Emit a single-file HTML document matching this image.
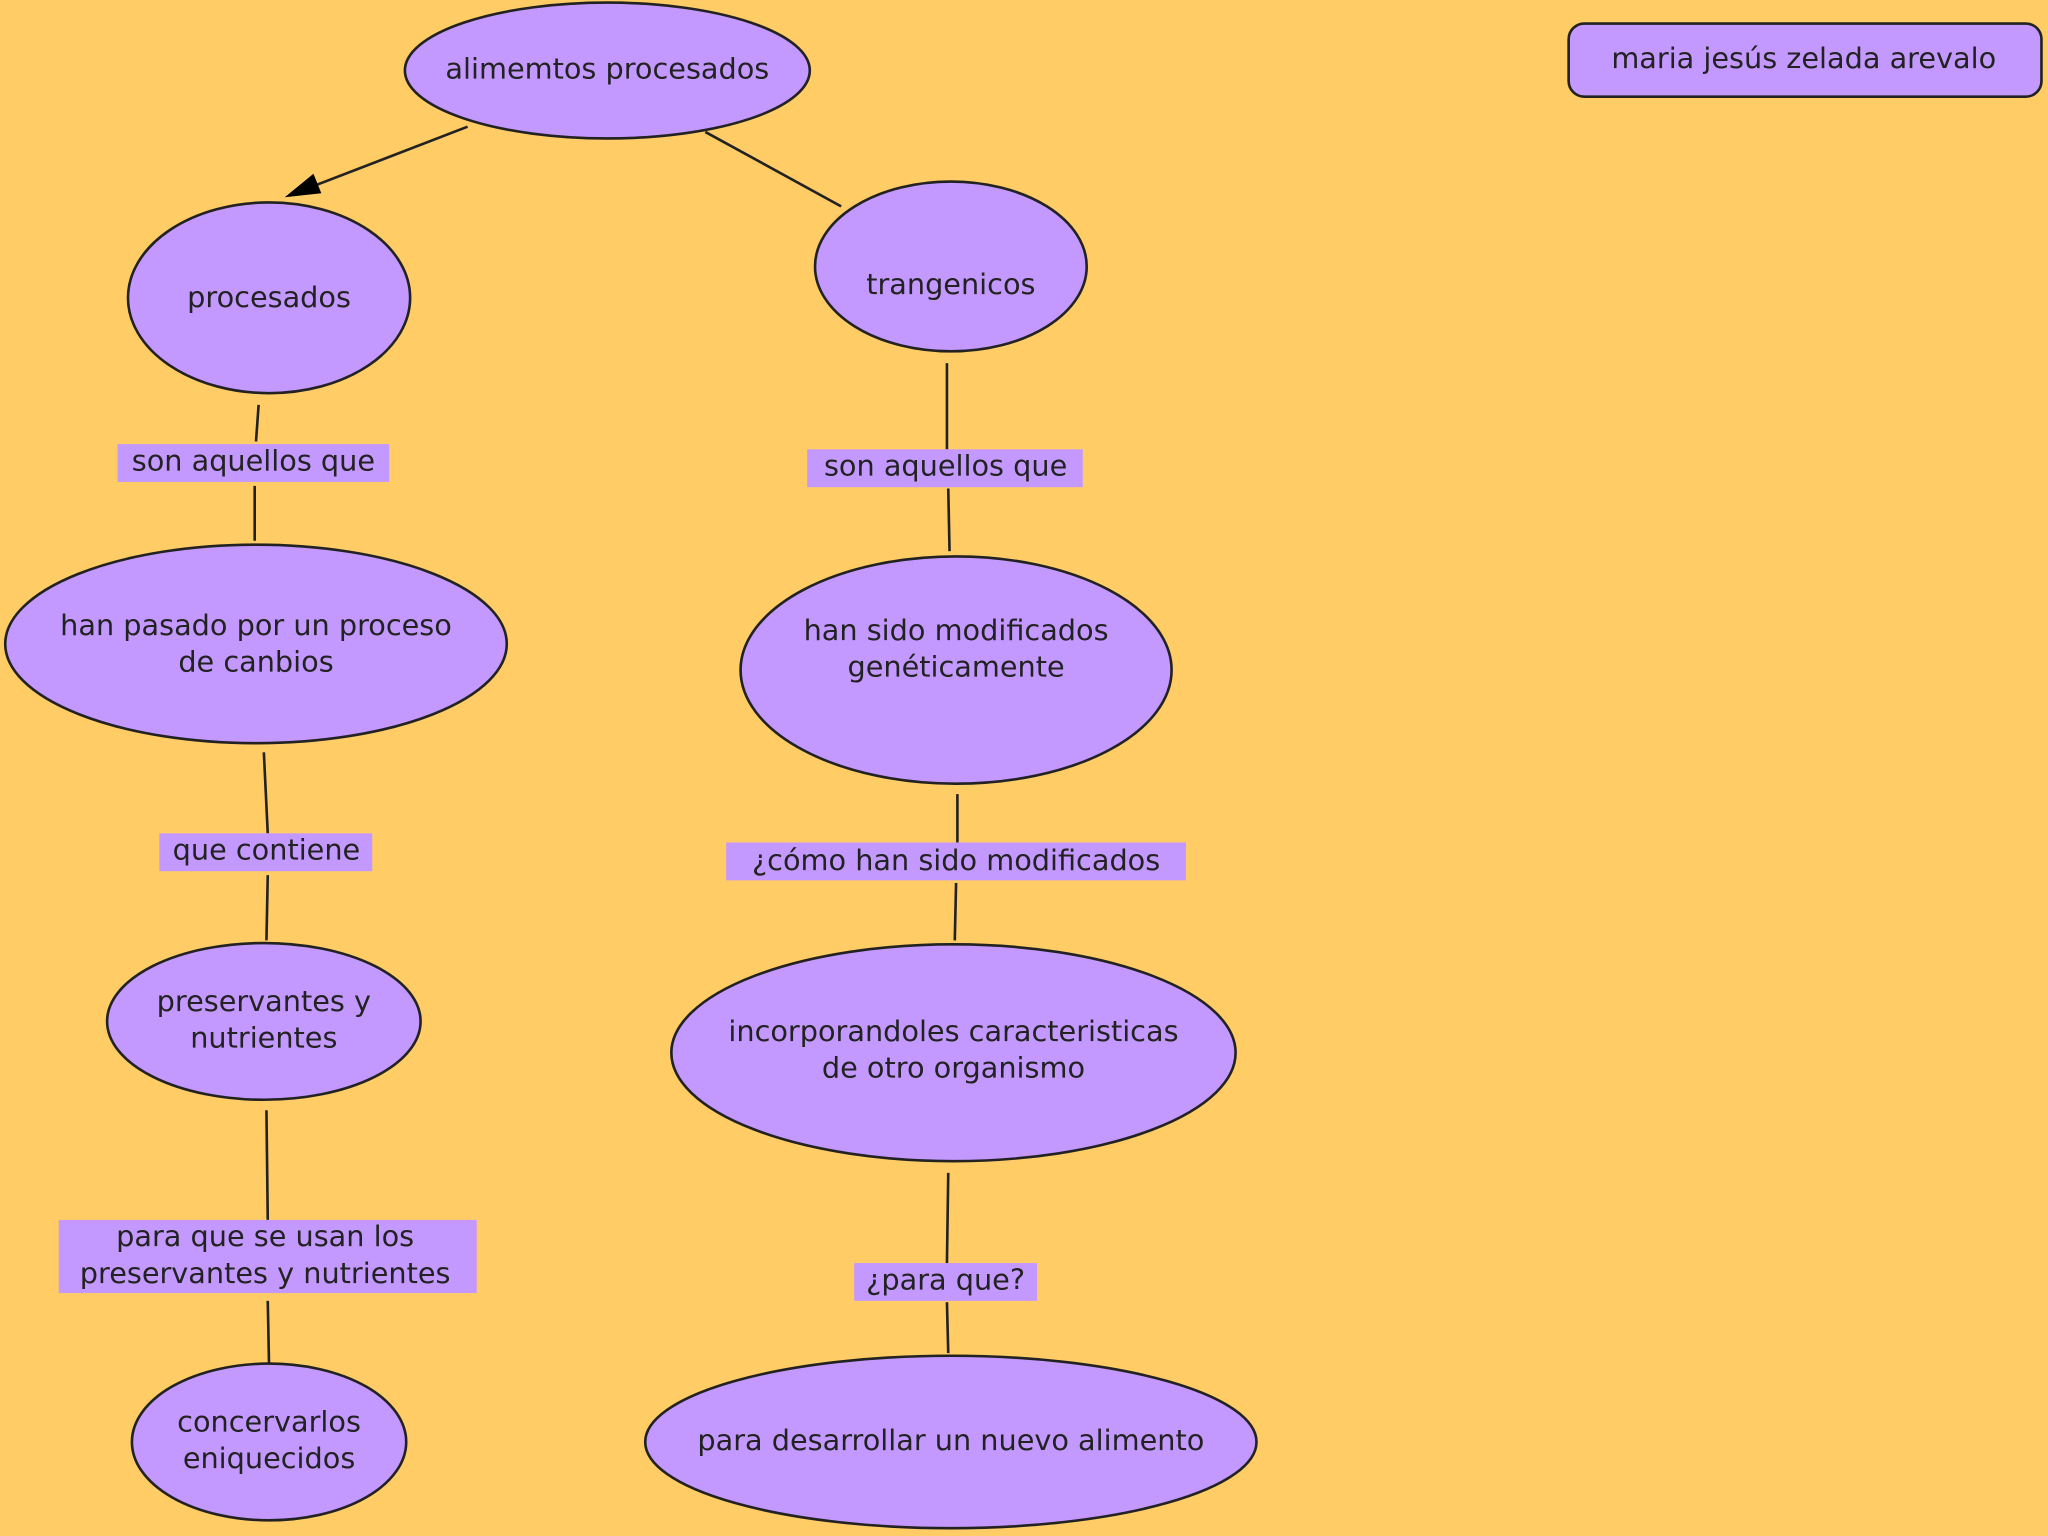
<!DOCTYPE html>
<html><head><meta charset="utf-8"><style>
html,body{margin:0;padding:0;background:#FFCC66;}
svg{display:block;}
text{font-family:"DejaVu Sans","Liberation Sans",sans-serif;font-size:22px;fill:#222;text-anchor:middle;dominant-baseline:middle;}
</style></head><body>
<svg width="2048" height="1536" viewBox="0 0 1568 1176" xmlns="http://www.w3.org/2000/svg">
<rect x="0" y="0" width="1568" height="1176" fill="#FFCC66"/>
<defs><marker id="ah" markerWidth="10" markerHeight="10" refX="9" refY="5" orient="auto" markerUnits="userSpaceOnUse"><path d="M0,0 L0,0" /></marker></defs>
<g stroke="#222" stroke-width="2" fill="none">
<line x1="358" y1="97" x2="236" y2="144"/>
<line x1="540" y1="101" x2="644" y2="158"/>
<line x1="198" y1="310" x2="196" y2="338"/>
<line x1="195" y1="372" x2="195" y2="414"/>
<line x1="202" y1="576" x2="205" y2="638"/>
<line x1="205" y1="670" x2="204" y2="720"/>
<line x1="204" y1="850" x2="205" y2="934"/>
<line x1="205" y1="996" x2="206" y2="1046"/>
<line x1="725" y1="278" x2="725" y2="344"/>
<line x1="726" y1="374" x2="727" y2="422"/>
<line x1="733" y1="608" x2="733" y2="645"/>
<line x1="732" y1="676" x2="731" y2="720"/>
<line x1="726" y1="898" x2="725" y2="967"/>
<line x1="725" y1="997" x2="726" y2="1036"/>
</g>
<polygon points="218,151 240,133 246,148" fill="#000"/>
<g fill="#C499FF" stroke="#222" stroke-width="2">
<ellipse cx="465" cy="54" rx="155" ry="52"/>
<ellipse cx="206" cy="228" rx="108" ry="73"/>
<ellipse cx="728" cy="204" rx="104" ry="65"/>
<ellipse cx="196" cy="493" rx="192" ry="76"/>
<ellipse cx="732" cy="513" rx="165" ry="87"/>
<ellipse cx="202" cy="782" rx="120" ry="60"/>
<ellipse cx="730" cy="806" rx="216" ry="83"/>
<ellipse cx="206" cy="1104" rx="105" ry="60"/>
<ellipse cx="728" cy="1104" rx="234" ry="66"/>
<rect x="1201" y="18" width="362" height="56" rx="12" ry="12"/>
</g>
<g fill="#C499FF">
<rect x="90" y="340" width="208" height="29"/>
<rect x="618" y="344" width="211" height="29"/>
<rect x="122" y="638" width="163" height="29"/>
<rect x="556" y="645" width="352" height="29"/>
<rect x="45" y="934" width="320" height="56"/>
<rect x="654" y="967" width="140" height="29"/>
</g>
<text x="465" y="54">alimemtos procesados</text>
<text x="1381" y="46">maria jesús zelada arevalo</text>
<text x="206" y="229">procesados</text>
<text x="728" y="219">trangenicos</text>
<text x="194" y="354">son aquellos que</text>
<text x="724" y="358">son aquellos que</text>
<text x="196" y="480">han pasado por un proceso</text>
<text x="196" y="508">de canbios</text>
<text x="732" y="484">han sido modificados</text>
<text x="732" y="512">genéticamente</text>
<text x="204" y="652">que contiene</text>
<text x="732" y="660">¿cómo han sido modificados</text>
<text x="202" y="768">preservantes y</text>
<text x="202" y="796">nutrientes</text>
<text x="730" y="791">incorporandoles caracteristicas</text>
<text x="730" y="819">de otro organismo</text>
<text x="203" y="948">para que se usan los</text>
<text x="203" y="976">preservantes y nutrientes</text>
<text x="724" y="981">¿para que?</text>
<text x="206" y="1090">concervarlos</text>
<text x="206" y="1118">eniquecidos</text>
<text x="728" y="1104">para desarrollar un nuevo alimento</text>
</svg>
</body></html>
